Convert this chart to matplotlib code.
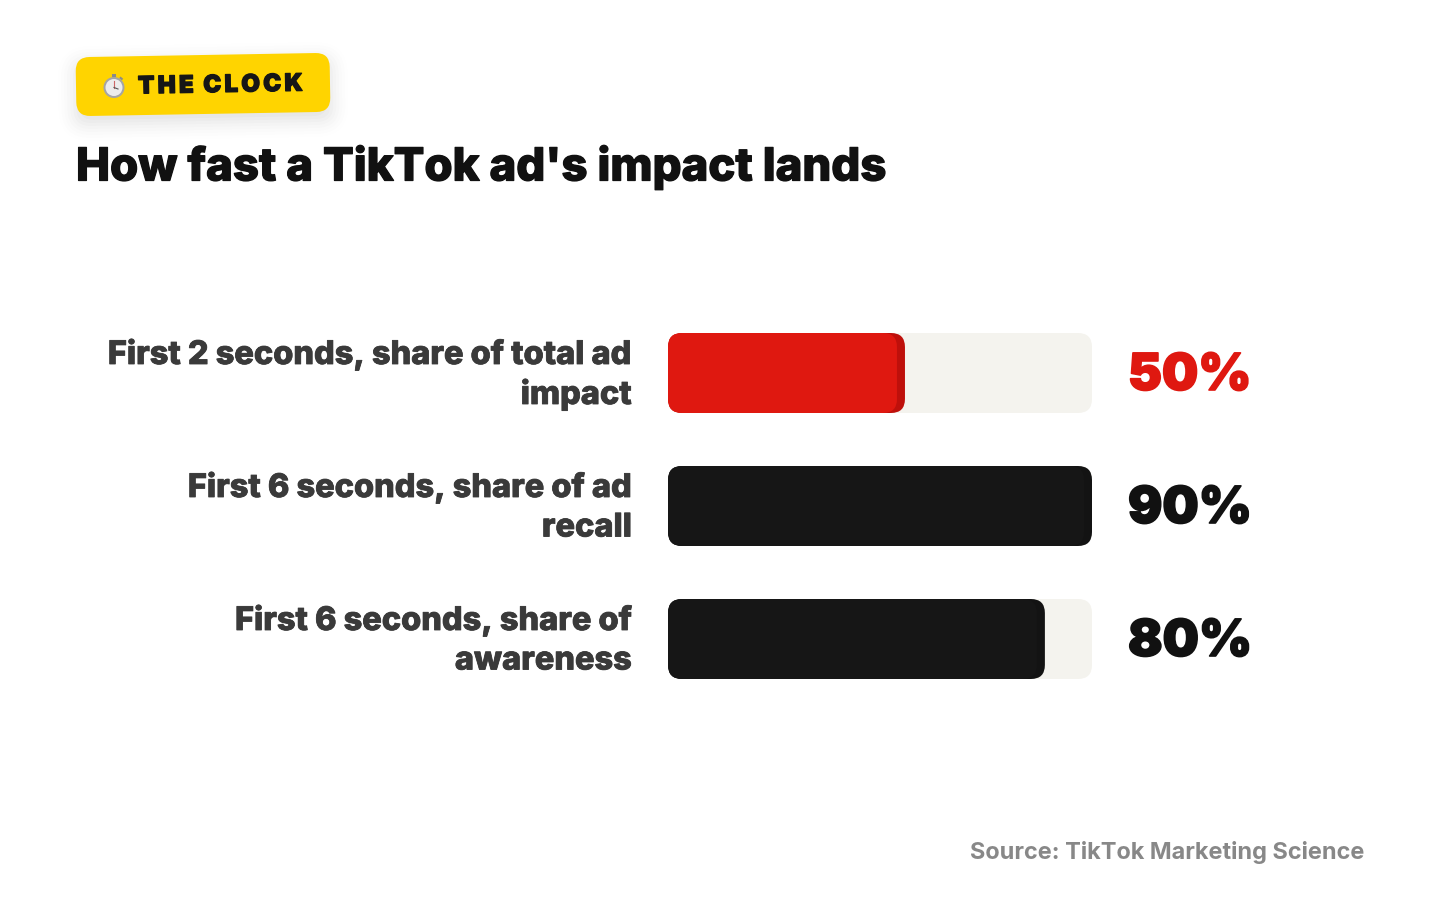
import matplotlib
matplotlib.use("Agg")
import matplotlib.pyplot as plt
import matplotlib.patheffects as pe
from matplotlib.patches import FancyBboxPatch, Circle, Rectangle
from matplotlib.transforms import Affine2D

categories = ["First 2 seconds, share of total ad\nimpact",
              "First 6 seconds, share of ad\nrecall",
              "First 6 seconds, share of\nawareness"]
values = [50.3, 90, 80]
value_labels = ["50%", "90%", "80%"]
domain_max = 90
title = "How fast a TikTok ad's impact lands"
badge = "T\u2009H\u2009E  C\u2009L\u2009O\u2009C\u2009K"
source = "Source: TikTok Marketing Science"

FONT = ["Inter", "Lato", "DejaVu Sans"]
W, H = 1440, 900
fig = plt.figure(figsize=(W/100, H/100), dpi=100, facecolor="white")
px = lambda p: p * 72 / 100
heavy = lambda w, c: [pe.withStroke(linewidth=w, foreground=c)]

bg = fig.add_axes([0, 0, 1, 1]); bg.set_xlim(0, W); bg.set_ylim(H, 0); bg.axis("off")

# badge
rot = Affine2D().rotate_deg_around(203, 84.5, -1) + bg.transData
bx, by, bw, bh = 76, 55, 254, 59
for grow, a in [(18, .005), (15, .007), (12, .009), (9, .011), (6, .013), (3, .015), (0, .017), (-3, .019)]:
    bg.add_patch(FancyBboxPatch((bx-grow, by+7-grow), bw+2*grow, bh+2*grow,
                 boxstyle=f"round,pad=0,rounding_size={14+max(grow,0)}", fc="black", ec="none", alpha=a, transform=rot))
bg.add_patch(FancyBboxPatch((bx, by), bw, bh, boxstyle="round,pad=0,rounding_size=14",
             fc="#FFD400", ec="none", transform=rot))
# stopwatch icon
bg.add_patch(Rectangle((112, 73.5), 4, 3, fc="#8a8a8a", ec="none"))
bg.add_patch(Rectangle((120.5, 76.5), 3.5, 2, angle=40, fc="#8a8a8a", ec="none"))
bg.add_patch(Circle((114, 87.5), 10.5, fc="#a5a5a5", ec="none"))
bg.add_patch(Circle((114, 87.5), 8.5, fc="#ECECEC", ec="none"))
bg.plot([114, 114], [87.5, 81], color="#c66", lw=0.8)
bg.plot([114, 118], [87.5, 89], color="#555", lw=0.8)

bg.text(138, 87.5, badge, fontfamily=FONT, fontweight="black", fontsize=px(24),
        color="#161616", rotation=1, rotation_mode="anchor", va="center", ha="left",
        path_effects=heavy(0.9, "#161616"))
bg.text(76, 167.5, title, fontfamily=FONT, fontweight="extra bold", fontsize=px(45.5), color="#111111",
        va="center", ha="left", path_effects=heavy(0.9, "#111111"))
bg.text(1364, 852, source, fontfamily=FONT, fontweight="bold", fontsize=px(23.5), color="#888888", va="center", ha="right")

# bars
top, bottom = 306.5, 705.5
ax = fig.add_axes([668/W, 1-bottom/H, 424/W, (bottom-top)/H])
ax.set_xlim(0, domain_max); ax.set_ylim(2.5, -0.5); ax.axis("off")
xpp = domain_max / 424; ypp = 3 / (bottom-top)
aspect = ypp / xpp
h = 80 * ypp

def rbar(i, v, color, z, inset_px=0):
    ax.add_patch(FancyBboxPatch((0, i-h/2), v-inset_px*xpp, h, boxstyle=f"round,pad=0,rounding_size={14*xpp}",
                 fc=color, ec="none", mutation_aspect=aspect, zorder=z))

for i, (c, v, lab) in enumerate(zip(categories, values, value_labels)):
    main = "#DF1810" if i == 0 else "#161616"
    dark = "#BE100B" if i == 0 else "#131313"
    vcol = "#DF1810" if i == 0 else "#111111"
    rbar(i, domain_max, "#F4F3EE", 1)
    rbar(i, v, dark, 2)
    rbar(i, v, main, 3, inset_px=8)
    first, second = c.split("\n")
    for line, dy in ((first, 20), (second, -20)):
        ax.annotate(line, (0, i), xytext=(-36*.72, (dy-2)*.72), textcoords="offset points", ha="right", va="center",
                    fontfamily=FONT, fontweight="extra bold", fontsize=px(32.5), color="#3A3A3A", annotation_clip=False,
                    path_effects=heavy(0.6, "#3A3A3A"))
    ax.annotate(lab, (domain_max, i), xytext=(36*.72, -3.5*.72), textcoords="offset points", ha="left", va="center",
                fontfamily=FONT, fontweight="black", fontsize=px(51), color=vcol, annotation_clip=False,
                path_effects=heavy(1.2, vcol))

fig.savefig("out.png", dpi=100, facecolor="white")
